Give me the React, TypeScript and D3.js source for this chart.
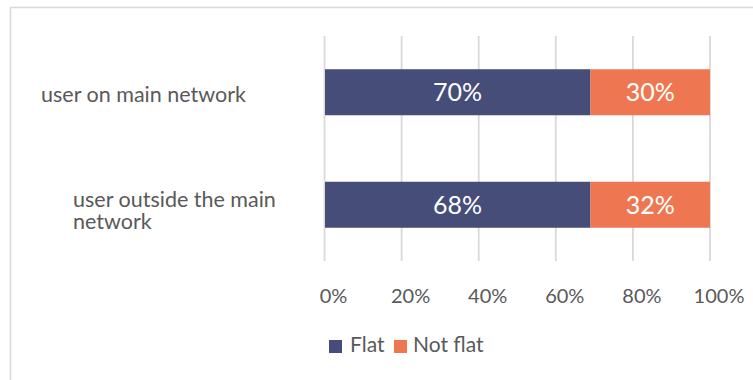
import React from "react";
import * as d3 from "d3";

const categories = ["user on main network", "user outside the main network"];
const categoryLines = [["user on main network"], ["user outside the main", "network"]];
const flatValues = [0.69, 0.69];
const notFlatValues = [0.31, 0.31];
const flatLabels = ["70%", "68%"];
const notFlatLabels = ["30%", "32%"];
const tickValues = [0, 0.2, 0.4, 0.6, 0.8, 1.0];
const seriesNames = ["Flat", "Not flat"];
const seriesColors = ["#464D79", "#EE7752"];

const W = 753;
const H = 380;
const FONT = "Lato, 'Open Sans', sans-serif";
const labelX = [41, 73];

export default function App() {
  const x = d3.scaleLinear().domain([0, 1]).range([324.5, 710]);
  const y = d3.scaleBand<string>().domain(categories).range([36, 261]).paddingInner(0.591).paddingOuter(0.2955);
  const stack = categories.map((c, i) => {
    const segs = [
      { key: seriesNames[0], x0: 0, x1: flatValues[i], label: flatLabels[i], color: seriesColors[0] },
      { key: seriesNames[1], x0: flatValues[i], x1: flatValues[i] + notFlatValues[i], label: notFlatLabels[i], color: seriesColors[1] },
    ];
    return { c, segs };
  });
  const bw = y.bandwidth();
  return (
    <svg width={W} height={H} style={{ position: "absolute", left: 0, top: 0, background: "#fff" }}>
      <rect x={10.5} y={7.5} width={800} height={400} fill="#fff" stroke="#d9d9d9" strokeWidth={1.5} />
      {tickValues.map((t) => (
        <line key={t} x1={x(t)} x2={x(t)} y1={36} y2={261} stroke="#d9d9d9" strokeWidth={1.8} />
      ))}
      {stack.map(({ c, segs }) =>
        segs.map((s) => (
          <g key={c + s.key}>
            <rect x={x(s.x0) + (s.x0 === 0 ? 0.5 : 0)} y={y(c)!} width={x(s.x1) - x(s.x0) - (s.x0 === 0 ? 0.5 : 0)} height={bw} fill={s.color} />
            <text
              x={(x(s.x0) + x(s.x1)) / 2}
              y={y(c)! + bw / 2}
              dy="0.36em"
              textAnchor="middle"
              fill="#fff"
              fontFamily={FONT}
              fontSize={25}
            >
              {s.label}
            </text>
          </g>
        ))
      )}
      {categories.map((c, i) => {
        const lines = categoryLines[i];
        const lh = 22;
        const cy = y(c)! + bw / 2;
        const base = cy + 10 - (lines.length - 1) * 7.75;
        return (
          <text key={c} fill="#595959" fontFamily={FONT} fontSize={21.5}>
            {lines.map((l, j) => (
              <tspan key={j} x={labelX[i]} y={base + j * lh}>
                {l}
              </tspan>
            ))}
          </text>
        );
      })}
      {tickValues.map((t) => (
        <text key={"t" + t} x={x(t) + 9} y={303} textAnchor="middle" fill="#595959" fontFamily={FONT} fontSize={20}>
          {d3.format(".0%")(t)}
        </text>
      ))}
      <g>
        <rect x={329} y={340} width={13} height={13} fill={seriesColors[0]} />
        <text x={350} y={352} fill="#595959" fontFamily={FONT} fontSize={21}>{seriesNames[0]}</text>
        <rect x={394} y={340} width={13} height={13} fill={seriesColors[1]} />
        <text x={413} y={352} fill="#595959" fontFamily={FONT} fontSize={21}>{seriesNames[1]}</text>
      </g>
    </svg>
  );
}
